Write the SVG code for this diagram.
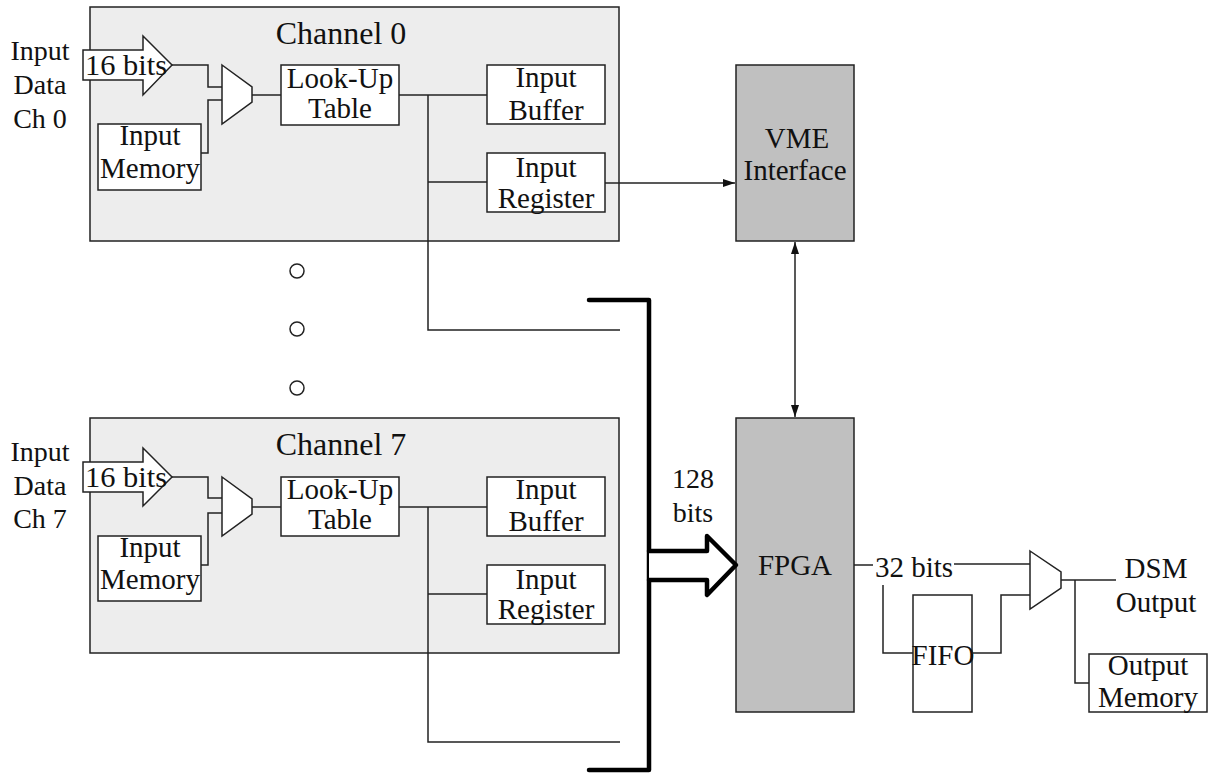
<svg xmlns="http://www.w3.org/2000/svg" width="1210" height="774" viewBox="0 0 1210 774">
<style>
text{font-family:"Liberation Serif","Times New Roman",serif;font-size:29px;fill:#111;text-anchor:middle}
.tt{font-size:32px}
.lb{font-size:28px}
.ch{fill:#ededed;stroke:#222;stroke-width:1.5}
.bx{fill:#fff;stroke:#222;stroke-width:1.5}
.gr{fill:#c0c0c0;stroke:#222;stroke-width:1.5}
.ln{fill:none;stroke:#222;stroke-width:1.5}
.th{fill:none;stroke:#000;stroke-width:4.5;stroke-linejoin:round;stroke-linecap:round}
.ha{fill:#fff;stroke:#222;stroke-width:1.5}
</style>
<defs>
<marker id="ah" viewBox="0 0 12 8" refX="12" refY="4" markerWidth="12" markerHeight="8" markerUnits="userSpaceOnUse" orient="auto-start-reverse">
<path d="M0,0 L12,4 L0,8 Z" fill="#111"/>
</marker>
</defs>

<g id="channel0">
<rect class="ch" x="90" y="7" width="529" height="234"/>
<text class="tt" x="341" y="44">Channel 0</text>
</g>
<g id="label-in0"><text class="lb" x="40" y="60">Input</text><text class="lb" x="40" y="94">Data</text><text class="lb" x="40" y="128">Ch 0</text></g>
<g id="arrow-in0">
<path class="ha" d="M83,50 H143 V36 L172,65 L143,95 V80 H83 Z"/>
<text x="126" y="75" textLength="82" lengthAdjust="spacingAndGlyphs">16 bits</text>
</g>
<g id="mux0"><path class="ha" d="M222,65 L252,87 V102 L222,124 Z"/></g>
<g id="lut0"><rect class="bx" x="281" y="65" width="118" height="60"/><text x="340" y="88">Look-Up</text><text x="340" y="118">Table</text></g>
<g id="mem0"><rect class="bx" x="98" y="124" width="103" height="66"/><text x="150" y="145">Input</text><text x="150" y="178">Memory</text></g>
<g id="buf0"><rect class="bx" x="487" y="65" width="118" height="59"/><text x="546" y="87">Input</text><text x="546" y="120">Buffer</text></g>
<g id="reg0"><rect class="bx" x="487" y="153" width="118" height="59"/><text x="546" y="177">Input</text><text x="546" y="208">Register</text></g>

<g id="channel7">
<rect class="ch" x="90" y="418" width="529" height="235"/>
<text class="tt" x="341" y="455">Channel 7</text>
</g>
<g id="label-in7"><text class="lb" x="40" y="461">Input</text><text class="lb" x="40" y="495">Data</text><text class="lb" x="40" y="528">Ch 7</text></g>
<g id="arrow-in7">
<path class="ha" d="M83,462 H143 V448 L172,477 L143,506 V492 H83 Z"/>
<text x="126" y="487" textLength="82" lengthAdjust="spacingAndGlyphs">16 bits</text>
</g>
<g id="mux7"><path class="ha" d="M222,477 L252,499 V514 L222,536 Z"/></g>
<g id="lut7"><rect class="bx" x="281" y="477" width="118" height="59"/><text x="340" y="499">Look-Up</text><text x="340" y="529">Table</text></g>
<g id="mem7"><rect class="bx" x="98" y="536" width="103" height="65"/><text x="150" y="557">Input</text><text x="150" y="589">Memory</text></g>
<g id="buf7"><rect class="bx" x="487" y="477" width="118" height="59"/><text x="546" y="499">Input</text><text x="546" y="531">Buffer</text></g>
<g id="reg7"><rect class="bx" x="487" y="565" width="118" height="59"/><text x="546" y="589">Input</text><text x="546" y="619">Register</text></g>

<g id="dots">
<circle class="ln" cx="297" cy="271" r="7"/>
<circle class="ln" cx="297" cy="329" r="7"/>
<circle class="ln" cx="297" cy="388" r="7"/>
</g>

<g id="vme"><rect class="gr" x="736" y="65" width="118" height="176"/><text x="797" y="148">VME</text><text x="795" y="180">Interface</text></g>
<g id="fpga"><rect class="gr" x="736" y="418" width="118" height="294"/><text x="795" y="575">FPGA</text></g>
<g id="fifo"><rect class="bx" x="913" y="595" width="59" height="117"/><text x="943" y="665">FIFO</text></g>
<g id="muxout"><path class="ha" d="M1030,551 L1061,572 V588 L1030,609 Z"/></g>
<g id="outmem"><rect class="bx" x="1089" y="654" width="118" height="58"/><text x="1148" y="675">Output</text><text x="1148" y="707">Memory</text></g>
<g id="dsm"><text x="1156" y="578">DSM</text><text x="1156" y="612">Output</text></g>
<g id="bus-label"><text class="lb" x="693" y="488">128</text><text class="lb" x="693" y="522">bits</text></g>

<g id="connectors">
<path class="ln" d="M172,65 H208 V87 H222"/>
<path class="ln" d="M201,153 H208 V100 H222"/>
<path class="ln" d="M252,95 H281"/>
<path class="ln" d="M399,95 H487"/>
<path class="ln" d="M428,95 V330 H620"/>
<path class="ln" d="M428,182 H487"/>
<path class="ln" d="M605,183 H735" marker-end="url(#ah)"/>

<path class="ln" d="M172,477 H208 V498 H222"/>
<path class="ln" d="M201,565 H208 V513 H222"/>
<path class="ln" d="M252,507 H281"/>
<path class="ln" d="M399,507 H487"/>
<path class="ln" d="M428,507 V742 H620"/>
<path class="ln" d="M428,594 H487"/>

<path class="ln" d="M795,242 V417" marker-start="url(#ah)" marker-end="url(#ah)"/>

<path class="th" d="M589,300 H649 V770 H589"/>
<path class="th" d="M649,551 H707 V536 L736,565 L707,595 V580 H649" style="fill:#fff"/>

<path class="ln" d="M854,565 H873"/>
<text x="914" y="577">32 bits</text>
<path class="ln" d="M954,564 H1030"/>
<path class="ln" d="M883,585 V653 H913"/>
<path class="ln" d="M972,653 H1001 V595 H1030"/>
<path class="ln" d="M1061,580 H1116"/>
<path class="ln" d="M1075,580 V683 H1089"/>
</g>
</svg>
